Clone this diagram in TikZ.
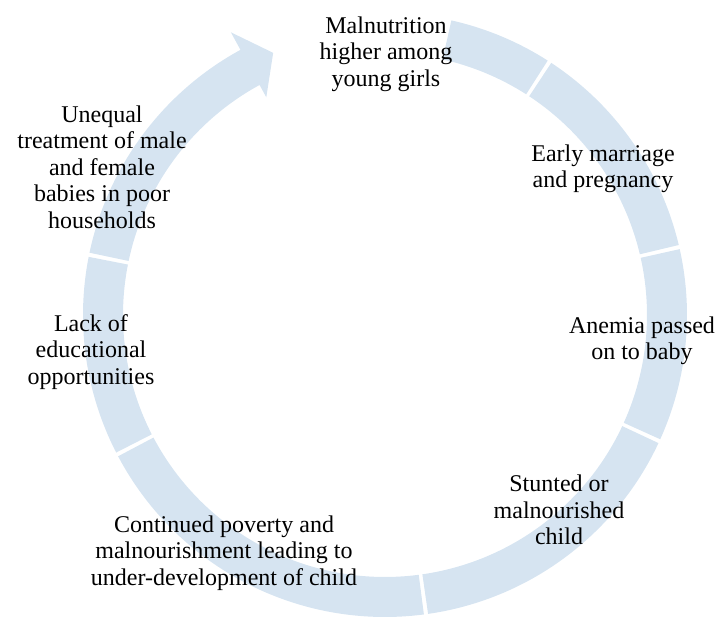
\documentclass[tikz,border=0pt]{standalone}
\usepackage{fontspec}
\setmainfont{Liberation Serif}
\definecolor{cyclefill}{RGB}{214,228,241}
\tikzset{seg/.style = {fill=cyclefill, draw=none},
         stage/.style = {align=center, inner sep=0pt, font=\fontsize{24}{26.5}\selectfont},
}

\begin{document}
\begin{tikzpicture}[x=1pt, y=1pt]
  \useasboundingbox (0,0) rectangle (720,617);
  \coordinate (c) at (385,302);

  % ring pieces, start/end angle
  \foreach \a/\b in {77.3/57.4, 56.6/13.4, 12.6/-24.3, -25.1/-81.8, -82.6/-152.1, -152.9/-191.1}
    \fill[seg] ([shift={(\a:302pt)}]c) arc (\a:\b:302pt) -- ([shift={(\b:262pt)}]c) arc (\b:\a:262pt) -- cycle;

  % last piece with the head
  \fill[seg] ([shift={(168.1:302pt)}]c) arc (168.1:118.6:302pt)
    -- ([shift={(118.6:322pt)}]c) -- ([shift={(113.1:285pt)}]c) -- ([shift={(118.6:248pt)}]c)
    -- ([shift={(118.6:262pt)}]c) arc (118.6:168.1:262pt) -- cycle;

  \node[stage] (girls) at (386,563) {Malnutrition\\higher among\\young girls};
  \node[stage] (marriage) at (603,448) {Early marriage\\and pregnancy};
  \node[stage] (anemia) at (642,276) {Anemia passed\\on to baby};
  \node[stage] (stunted) at (559,107) {Stunted or\\malnourished\\child};
  \node[stage] (poverty) at (224,64) {Continued poverty and\\malnourishment leading to\\under-development of child};
  \node[stage] (education) at (91,265) {Lack of\\educational\\opportunities};
  \node[stage] (unequal) at (102,450) {Unequal\\treatment of male\\and female\\babies in poor\\households};

\end{tikzpicture}
\end{document}
